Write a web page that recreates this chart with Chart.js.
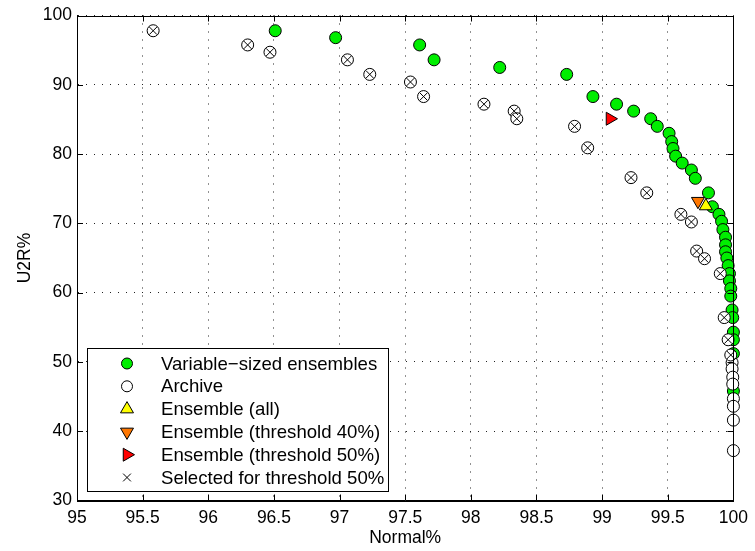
<!DOCTYPE html>
<html>
<head>
<meta charset="utf-8">
<title>Normal% vs U2R%</title>
<script src="https://cdn.jsdelivr.net/npm/chart.js@4/dist/chart.umd.min.js"></script>
<style>
  html, body { margin: 0; padding: 0; background: #fff; }
  #wrap { width: 755px; height: 551px; }
</style>
</head>
<body>
<div id="wrap"><canvas id="frontChart" width="755" height="551"></canvas></div>
<script>
// legend text, in drawing order
const seriesNames = [
  'Variable\u2212sized ensembles',
  'Archive',
  'Ensemble (all)',
  'Ensemble (threshold 40%)',
  'Ensemble (threshold 50%)',
  'Selected for threshold 50%'
];

const xTicks = [95, 95.5, 96, 96.5, 97, 97.5, 98, 98.5, 99, 99.5, 100];
const yTicks = [30, 40, 50, 60, 70, 80, 90, 100];

// variable-sized ensembles
const ensNormal = [96.51, 96.97, 97.61, 97.72, 98.22, 98.73, 98.93, 99.11, 99.24, 99.37,
  99.42, 99.51, 99.53, 99.54, 99.56, 99.61, 99.68, 99.71, 99.81, 99.84,
  99.89, 99.91, 99.92, 99.94, 99.94, 99.94, 99.95, 99.96, 99.97, 99.97,
  99.98, 99.98, 99.99, 99.995, 100, 100, 100, 100];
const ensU2R = [97.8, 96.8, 95.75, 93.6, 92.5, 91.5, 88.3, 87.2, 86.2, 85.1,
  84.0, 83.0, 81.8, 80.8, 79.7, 78.7, 77.7, 76.5, 74.4, 72.4,
  71.3, 70.3, 69.1, 68.0, 66.9, 65.9, 65.0, 63.9, 62.75, 61.7,
  60.6, 59.5, 57.5, 56.4, 54.3, 53.2, 51.2, 45.8];

// archive members that were not picked
const archNormal = [99.99, 99.99, 99.995, 99.995, 100, 100, 100, 100];
const archU2R = [49.9, 49.0, 47.8, 46.8, 44.7, 43.6, 41.6, 37.2];

// archive members picked for the 50% threshold
const selNormal = [95.58, 96.30, 96.47, 97.06, 97.23, 97.54, 97.64, 98.10, 98.33, 98.35,
  98.79, 98.89, 99.22, 99.34, 99.60, 99.68, 99.72, 99.78, 99.90, 99.93,
  99.96, 99.98];
const selU2R = [97.8, 95.75, 94.7, 93.6, 91.5, 90.4, 88.3, 87.2, 86.2, 85.1,
  84.0, 80.9, 76.6, 74.4, 71.3, 70.2, 66.0, 64.9, 62.75, 56.4,
  53.2, 51.0];

// single ensemble results
const allNormal = [99.79], allU2R = [72.5];
const t40Normal = [99.73], t40U2R = [73.2];
const t50Normal = [99.06], t50U2R = [85.1];

const FONT = "'Liberation Sans', Arial, Helvetica, sans-serif";
const GREEN = '#00ee00';
const ORANGE = '#ff7700';

function pts(xs, ys) {
  return xs.map((x, i) => ({ x: x, y: ys[i] }));
}

// legend swatches: style, fill, radius, rotation
const legendMarks = [
  { style: 'circle', fill: GREEN, r: 5.5, rot: 0 },
  { style: 'circle', fill: '#fff', r: 5.5, rot: 0 },
  { style: 'triangle', fill: '#ffff00', r: 7.5, rot: 0 },
  { style: 'triangle', fill: ORANGE, r: 7.5, rot: 180 },
  { style: 'triangle', fill: '#ff0000', r: 7.5, rot: 90 },
  { style: 'crossRot', fill: null, r: 5.5, rot: 0 }
];

function drawMark(ctx, m, x, y) {
  ctx.beginPath();
  if (m.style === 'circle') {
    ctx.arc(x, y, m.r, 0, Math.PI * 2);
  } else if (m.style === 'triangle') {
    let a = m.rot * Math.PI / 180;
    for (let k = 0; k < 3; k++) {
      const px = x + Math.sin(a) * m.r, py = y - Math.cos(a) * m.r;
      if (k === 0) ctx.moveTo(px, py); else ctx.lineTo(px, py);
      a += Math.PI * 2 / 3;
    }
    ctx.closePath();
  } else {
    const d = m.r * Math.SQRT1_2;
    ctx.moveTo(x - d, y - d); ctx.lineTo(x + d, y + d);
    ctx.moveTo(x - d, y + d); ctx.lineTo(x + d, y - d);
  }
  if (m.fill) { ctx.fillStyle = m.fill; ctx.fill(); }
  ctx.stroke();
}

// solid box, inward tick marks and the boxed legend
const framePlugin = {
  id: 'frame',
  afterDraw(chart) {
    const ctx = chart.ctx, a = chart.chartArea;
    const sx = chart.scales.x, sy = chart.scales.y;
    ctx.save();
    ctx.strokeStyle = '#000';
    ctx.lineWidth = 1;
    ctx.setLineDash([]);
    ctx.strokeRect(Math.round(a.left) + 0.5, Math.round(a.top) + 0.5,
      Math.round(a.right - a.left), Math.round(a.bottom - a.top));

    ctx.beginPath();
    xTicks.forEach(v => {
      const px = Math.round(sx.getPixelForValue(v)) + 0.5;
      ctx.moveTo(px, a.bottom); ctx.lineTo(px, a.bottom - 6);
      ctx.moveTo(px, a.top); ctx.lineTo(px, a.top + 6);
    });
    yTicks.forEach(v => {
      const py = Math.round(sy.getPixelForValue(v)) + 0.5;
      ctx.moveTo(a.left, py); ctx.lineTo(a.left + 6, py);
      ctx.moveTo(a.right, py); ctx.lineTo(a.right - 6, py);
    });
    ctx.stroke();

    // legend
    const box = { left: 87.5, top: 348.5, width: 301, height: 143 };
    ctx.fillStyle = '#fff';
    ctx.fillRect(box.left, box.top, box.width, box.height);
    ctx.strokeRect(box.left, box.top, box.width, box.height);
    ctx.font = '18.6px ' + FONT;
    ctx.textBaseline = 'middle';
    ctx.textAlign = 'left';
    seriesNames.forEach((name, i) => {
      const cy = 363.5 + i * 22.8;
      ctx.strokeStyle = '#000';
      ctx.lineWidth = 1;
      drawMark(ctx, legendMarks[i], 127, cy);
      ctx.fillStyle = '#000';
      ctx.fillText(name, 161, cy + 1);
    });
    ctx.restore();
  }
};

Chart.defaults.font.family = FONT;
Chart.defaults.font.size = 17.5;
Chart.defaults.color = '#000';

new Chart(document.getElementById('frontChart'), {
  type: 'scatter',
  data: {
    datasets: [
      {
        label: seriesNames[5],
        data: pts(selNormal, selU2R),
        pointStyle: 'crossRot', pointRadius: 5.5, borderColor: '#000', borderWidth: 1,
        order: 0
      },
      {
        label: seriesNames[4],
        data: pts(t50Normal, t50U2R),
        pointStyle: 'triangle', pointRotation: 90, pointRadius: 7.5,
        backgroundColor: '#ff0000', borderColor: '#000', borderWidth: 1,
        order: 1
      },
      {
        label: seriesNames[2],
        data: pts(allNormal, allU2R),
        pointStyle: 'triangle', pointRadius: 7.5,
        backgroundColor: '#ffff00', borderColor: '#000', borderWidth: 1,
        order: 2
      },
      {
        label: seriesNames[3],
        data: pts(t40Normal, t40U2R),
        pointStyle: 'triangle', pointRotation: 180, pointRadius: 7.5,
        backgroundColor: ORANGE, borderColor: '#000', borderWidth: 1,
        order: 3
      },
      {
        label: seriesNames[1],
        data: pts(archNormal.concat(selNormal), archU2R.concat(selU2R)),
        pointStyle: 'circle', pointRadius: 6,
        backgroundColor: '#fff', borderColor: '#000', borderWidth: 1,
        order: 4
      },
      {
        label: seriesNames[0],
        data: pts(ensNormal, ensU2R),
        pointStyle: 'circle', pointRadius: 6,
        backgroundColor: GREEN, borderColor: '#000', borderWidth: 1,
        order: 5
      }
    ]
  },
  options: {
    responsive: false,
    animation: false,
    events: [],
    clip: false,
    layout: { padding: { top: 14, right: 17, left: 0, bottom: 0 } },
    plugins: {
      legend: { display: false },
      tooltip: { enabled: false }
    },
    scales: {
      x: {
        type: 'linear',
        min: 95, max: 100,
        afterBuildTicks: s => { s.ticks = xTicks.map(v => ({ value: v })); },
        afterFit: s => { s.height = 50.5; },
        ticks: { padding: 7, maxRotation: 0, autoSkip: false, callback: v => String(v) },
        grid: { color: '#222', lineWidth: 1, drawTicks: false },
        border: { display: true, color: '#000', dash: [1, 7] },
        title: { display: true, text: 'Normal%', padding: { top: 0, bottom: 2 } }
      },
      y: {
        type: 'linear',
        min: 30, max: 100,
        afterBuildTicks: s => { s.ticks = yTicks.map(v => ({ value: v })); },
        afterFit: s => { s.width = 77; },
        ticks: { padding: 5, autoSkip: false, callback: v => String(v) },
        grid: { color: '#222', lineWidth: 1, drawTicks: false },
        border: { display: true, color: '#000', dash: [1, 7] },
        title: { display: true, text: 'U2R%', padding: { top: 15, bottom: 0 } }
      }
    }
  },
  plugins: [framePlugin]
});
</script>
</body>
</html>
